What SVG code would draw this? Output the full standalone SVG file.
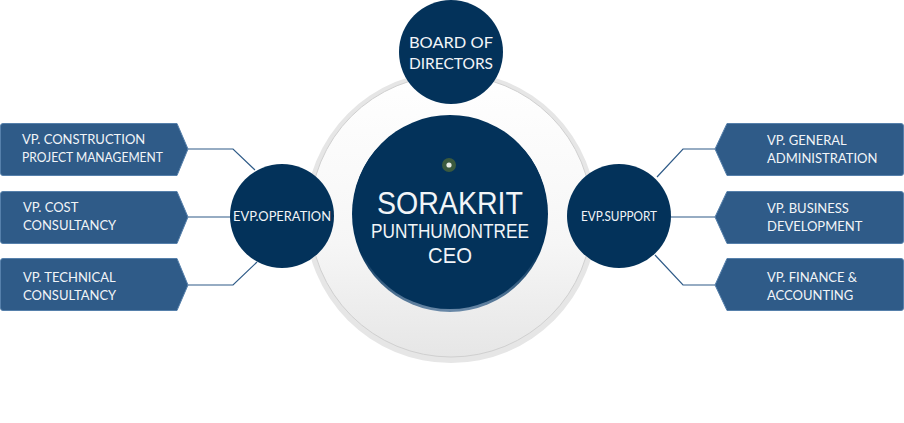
<svg xmlns="http://www.w3.org/2000/svg" width="904" height="423" viewBox="0 0 904 423">
<style>
.t{font-family:Lato,"Liberation Sans",sans-serif;fill:#f2f5f8;}
.c{font-family:"Liberation Sans",Lato,sans-serif;fill:#f2f5f8;}
.vp{font-size:13px;}
.evp{font-size:13px;}
.box{fill:#2f5b88;stroke:#5680ab;stroke-width:1;}
.dark{fill:#03325a;}
.con{fill:none;stroke:#2f5b88;stroke-width:1.2;}
</style>
<defs>
<linearGradient id="disk" x1="0" y1="0" x2="0" y2="1">
<stop offset="0" stop-color="#ffffff"/>
<stop offset="0.6" stop-color="#f6f6f6"/>
<stop offset="1" stop-color="#e6e6e6"/>
</linearGradient>
<linearGradient id="rim" x1="0" y1="0" x2="0" y2="1">
<stop offset="0" stop-color="#03325a"/>
<stop offset="0.7" stop-color="#03325a"/>
<stop offset="1" stop-color="#6b8aa8"/>
</linearGradient>
</defs>
<g id="ring">
<circle cx="451" cy="217" r="146" fill="#e6e6e6"/>
<circle cx="451" cy="216" r="141" fill="url(#disk)" stroke="#d0d0d0" stroke-width="1"/>
</g>
<g id="connectors">
<polyline class="con" points="188,149 233,149 255,170"/>
<line class="con" x1="188" y1="217" x2="231" y2="217"/>
<polyline class="con" points="188,285 233,285 257,262"/>
<polyline class="con" points="715,149 683,149 657,177"/>
<line class="con" x1="715" y1="217" x2="670" y2="217"/>
<polyline class="con" points="715,285 683,285 655,255"/>
</g>
<g id="board">
<circle class="dark" cx="451" cy="52" r="52"/>
<text class="t" x="451" y="48" font-size="16" text-anchor="middle" textLength="84" lengthAdjust="spacingAndGlyphs">BOARD OF</text>
<text class="t" x="451" y="69" font-size="16" text-anchor="middle" textLength="84" lengthAdjust="spacingAndGlyphs">DIRECTORS</text>
</g>
<g id="ceo">
<circle cx="450" cy="214" r="98" fill="url(#rim)"/>
<circle class="dark" cx="450" cy="212" r="97"/>
<circle cx="449" cy="165" r="7" fill="#3b5a3e"/>
<circle cx="449" cy="165" r="2.6" fill="#e8ece8"/>
<text class="c" x="450" y="214" font-size="31" text-anchor="middle" textLength="146" lengthAdjust="spacingAndGlyphs">SORAKRIT</text>
<text class="c" x="450" y="238" font-size="20" text-anchor="middle" textLength="158" lengthAdjust="spacingAndGlyphs">PUNTHUMONTREE</text>
<text class="c" x="450" y="263" font-size="22" text-anchor="middle" textLength="44" lengthAdjust="spacingAndGlyphs">CEO</text>
</g>
<g id="evp-operation">
<circle class="dark" cx="282" cy="216" r="52"/>
<text class="t evp" x="282" y="221" text-anchor="middle" textLength="98" lengthAdjust="spacingAndGlyphs">EVP.OPERATION</text>
</g>
<g id="evp-support">
<circle class="dark" cx="619" cy="216" r="52"/>
<text class="t evp" x="619" y="221" text-anchor="middle" textLength="76" lengthAdjust="spacingAndGlyphs">EVP.SUPPORT</text>
</g>
<g id="vp-construction">
<path class="box" d="M3,123.5 H177 L188,149 L177,175.5 H3 Q0.5,175.5 0.5,173 V126 Q0.5,123.5 3,123.5 Z"/>
<text class="t vp" x="22" y="144">VP. CONSTRUCTION</text>
<text class="t vp" x="22" y="162" textLength="141" lengthAdjust="spacingAndGlyphs">PROJECT MANAGEMENT</text>
</g>
<g id="vp-cost">
<path class="box" d="M3,191.5 H177 L188,217 L177,243.5 H3 Q0.5,243.5 0.5,241 V194 Q0.5,191.5 3,191.5 Z"/>
<text class="t vp" x="23" y="212">VP. COST</text>
<text class="t vp" x="23" y="230">CONSULTANCY</text>
</g>
<g id="vp-technical">
<path class="box" d="M3,258.5 H177 L188,285 L177,310.5 H3 Q0.5,310.5 0.5,308 V261 Q0.5,258.5 3,258.5 Z"/>
<text class="t vp" x="23" y="282">VP. TECHNICAL</text>
<text class="t vp" x="23" y="300">CONSULTANCY</text>
</g>
<g id="vp-general">
<path class="box" d="M727,123.5 H901 Q903.5,123.5 903.5,126 V173 Q903.5,175.5 901,175.5 H727 L715,149 Z"/>
<text class="t vp" x="767" y="145">VP. GENERAL</text>
<text class="t vp" x="767" y="163">ADMINISTRATION</text>
</g>
<g id="vp-business">
<path class="box" d="M727,191.5 H901 Q903.5,191.5 903.5,194 V241 Q903.5,243.5 901,243.5 H727 L715,217 Z"/>
<text class="t vp" x="767" y="213">VP. BUSINESS</text>
<text class="t vp" x="767" y="231">DEVELOPMENT</text>
</g>
<g id="vp-finance">
<path class="box" d="M727,258.5 H901 Q903.5,258.5 903.5,261 V308 Q903.5,310.5 901,310.5 H727 L715,285 Z"/>
<text class="t vp" x="767" y="282">VP. FINANCE &amp;</text>
<text class="t vp" x="767" y="300">ACCOUNTING</text>
</g>
</svg>
